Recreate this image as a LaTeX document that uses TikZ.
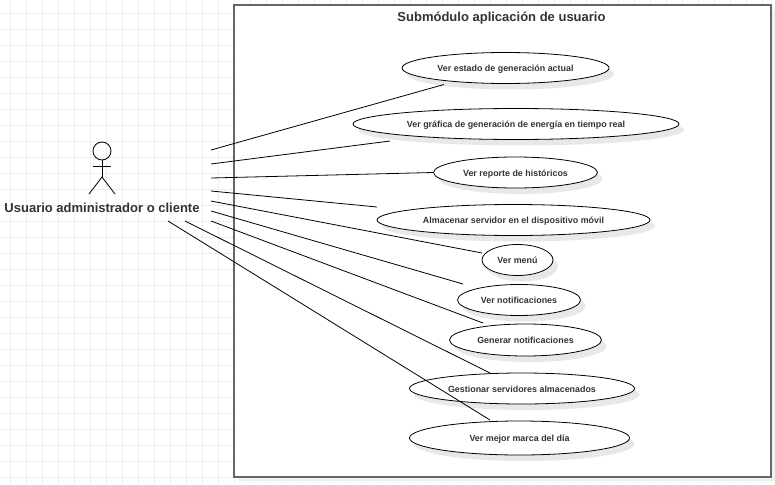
\documentclass[tikz,border=0pt]{standalone}
\usepackage{fontspec}
\setmainfont{Liberation Sans}
\usetikzlibrary{shapes.geometric,shadows}
\definecolor{gridgray}{HTML}{EEEEEE}
\definecolor{labelgray}{HTML}{333333}
\tikzset{
    softshadow/.style={drop shadow={shadow xshift=5pt, shadow yshift=-6pt, fill=black!9, opacity=1}},
    usecase/.style={draw=black, fill=white, ellipse, inner sep=0pt, line width=0.8pt, softshadow,
        text=labelgray, text height=8pt, text depth=1pt, font=\fontsize{8.9}{11}\selectfont\bfseries},
    assoc/.style={draw=black, line width=0.8pt},
    bigtext/.style={text=labelgray, font=\fontsize{13}{15}\selectfont\bfseries}
}
\begin{document}
\begin{tikzpicture}[x=1pt, y=-1pt]
    \useasboundingbox (0,0) rectangle (775,484);
    % background grid
    \foreach \gx in {0,...,48} {
        \draw[gridgray, line width=1pt] ({10.3+16*\gx},0) -- ({10.3+16*\gx},484);
    }
    \foreach \gy in {0,...,29} {
        \draw[gridgray, line width=1pt] (0,{13.3+16*\gy}) -- (775,{13.3+16*\gy});
    }
    % module box
    \node[draw=black!60, fill=white, line width=1.6pt, minimum width=537pt, minimum height=472pt, inner sep=0pt,
        outer sep=0pt, drop shadow={shadow xshift=4pt, shadow yshift=-4pt, fill=black!6, opacity=1},
        anchor=north west] (modulebox) at (234,5) {};
    \node[bigtext] (moduletitle) at (501.5,18) {Submódulo aplicación de usuario};
    % actor
    \node[draw=black, circle, line width=0.8pt, minimum size=18pt, inner sep=0pt] (head) at (102,151) {};
    \coordinate (hip) at (102,177);
    \coordinate (armL) at (93,166);
    \coordinate (armR) at (111,166);
    \coordinate (legL) at (89,194);
    \coordinate (legR) at (115,194);
    \draw[assoc] (head.south) -- (hip);
    \draw[assoc] (armL) -- (armR);
    \draw[assoc] (legL) -- (hip) -- (legR);
    \node[bigtext] (actorname) at (102,207.5) {Usuario administrador o cliente};
    % use cases
    \node[usecase, minimum width=207pt, minimum height=31pt] (verestado) at (505.5,68) {Ver estado de generación actual};
    \node[usecase, minimum width=326pt, minimum height=31pt] (vergrafica) at (516,124) {Ver gráfica de generación de energía en tiempo real};
    \node[usecase, minimum width=164pt, minimum height=31pt] (verreporte) at (515.5,172.5) {Ver reporte de históricos};
    \node[usecase, minimum width=273pt, minimum height=31pt] (almacenar) at (513.5,220) {Almacenar servidor en el dispositivo móvil};
    \node[usecase, minimum width=71pt, minimum height=31pt] (vermenu) at (517.5,260) {Ver menú};
    \node[usecase, minimum width=123pt, minimum height=31pt] (vernotif) at (519,300) {Ver notificaciones};
    \node[usecase, minimum width=152pt, minimum height=32pt] (generar) at (525.5,340) {Generar notificaciones};
    \node[usecase, minimum width=225pt, minimum height=31pt] (gestionar) at (522,388.5) {Gestionar servidores almacenados};
    \node[usecase, minimum width=220pt, minimum height=34pt] (mejor) at (519.5,438) {Ver mejor marca del día};
    % free ends of the associations
    \coordinate (a1) at (211,150);
    \coordinate (a2) at (211,164);
    \coordinate (a3) at (211,178);
    \coordinate (a4) at (211,191);
    \coordinate (a5) at (211,201);
    \coordinate (a6) at (211,211);
    \coordinate (a7) at (211,221);
    \coordinate (a8) at (185,221);
    \coordinate (a9) at (168,221);
    \coordinate (b1) at (444,84.5);
    \coordinate (b2) at (390,141);
    \coordinate (b4) at (377,207);
    \coordinate (b5) at (482,253);
    \coordinate (b6) at (463,284);
    \coordinate (b7) at (483,323);
    \coordinate (b8) at (490,373);
    \coordinate (b9) at (490,420);
    % associations
    \draw[assoc] (a1) -- (b1);
    \draw[assoc] (a2) -- (b2);
    \draw[assoc] (a3) -- (verreporte.west);
    \draw[assoc] (a4) -- (b4);
    \draw[assoc] (a5) -- (b5);
    \draw[assoc] (a6) -- (b6);
    \draw[assoc] (a7) -- (b7);
    \draw[assoc] (a8) -- (b8);
    \draw[assoc] (a9) -- (b9);
\end{tikzpicture}
\end{document}
